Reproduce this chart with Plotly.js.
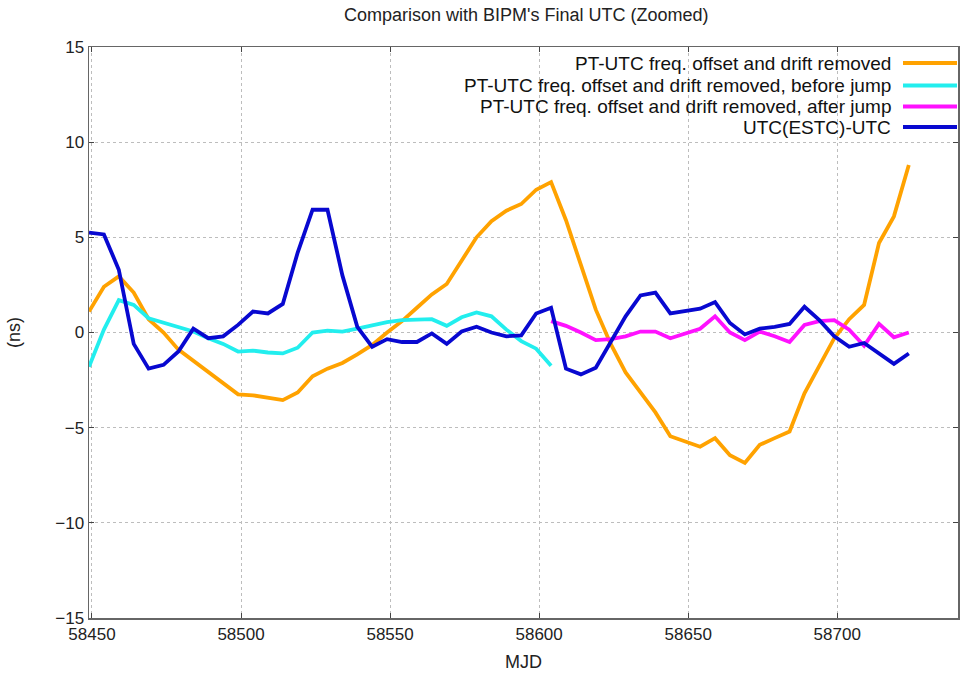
<!DOCTYPE html>
<html>
<head>
<meta charset="utf-8">
<script src="https://cdn.plot.ly/plotly-3.0.1.min.js"></script>
<style>html,body{margin:0;padding:0;background:#fff;}#chart{width:969px;height:681px;}</style>
</head>
<body>
<div id="chart"></div>
<script>
// MJD sample points (every 5 days)
const mjd = [58449,58454,58459,58464,58469,58474,58479,58484,58489,58494,
  58499,58504,58509,58514,58519,58524,58529,58534,58539,58544,
  58549,58554,58559,58564,58569,58574,58579,58584,58589,58594,
  58599,58604,58609,58614,58619,58624,58629,58634,58639,58644,
  58649,58654,58659,58664,58669,58674,58679,58684,58689,58694,
  58699,58704,58709,58714,58719,58724];

const ptUtc = [1.1,2.4,2.95,2.1,0.7,0.0,-0.9,-1.5,-2.1,-2.65,
  -3.25,-3.3,-3.45,-3.55,-3.15,-2.3,-1.9,-1.6,-1.15,-0.65,
  0.0,0.6,1.3,2.0,2.55,3.75,5.0,5.85,6.4,6.75,
  7.5,7.9,5.9,3.55,1.2,-0.6,-2.1,-3.15,-4.2,-5.45,
  -5.75,-6.0,-5.55,-6.45,-6.85,-5.9,-5.55,-5.2,-3.2,-1.8,
  -0.3,0.7,1.45,4.7,6.1,8.8];

const mjdBefore = mjd.slice(0, 32);
const ptBefore = [-1.8,0.15,1.7,1.45,0.75,0.5,0.3,0.05,-0.3,-0.6,
  -1.0,-0.95,-1.05,-1.1,-0.8,0.0,0.1,0.05,0.2,0.4,
  0.55,0.65,0.7,0.7,0.35,0.8,1.05,0.85,0.15,-0.45,
  -0.85,-1.75];

const mjdAfter = mjd.slice(31);
const ptAfter = [0.6,0.35,0.0,-0.4,-0.35,-0.2,0.05,0.05,-0.3,-0.05,
  0.2,0.85,0.0,-0.4,0.05,-0.2,-0.5,0.4,0.6,0.65,
  0.15,-0.7,0.45,-0.25,0.0];

const estc = [5.25,5.15,3.3,-0.6,-1.9,-1.7,-1.0,0.2,-0.3,-0.2,
  0.4,1.1,1.0,1.5,4.2,6.45,6.45,3.0,0.3,-0.75,
  -0.35,-0.5,-0.5,-0.05,-0.6,0.05,0.3,0.0,-0.2,-0.15,
  1.0,1.3,-1.9,-2.2,-1.85,-0.5,0.85,1.95,2.1,1.0,
  1.1,1.25,1.6,0.5,-0.1,0.2,0.3,0.45,1.35,0.65,
  -0.2,-0.75,-0.55,-1.1,-1.65,-1.1];

const names = ["PT-UTC freq. offset and drift removed",
  "PT-UTC freq. offset and drift removed, before jump",
  "PT-UTC freq. offset and drift removed, after jump",
  "UTC(ESTC)-UTC"];
const colors = ["#ffa200", "#22eeee", "#ff11ff", "#0808d0"];

const traces = [
  {x: mjd, y: ptUtc, name: names[0]},
  {x: mjdBefore, y: ptBefore, name: names[1]},
  {x: mjdAfter, y: ptAfter, name: names[2]},
  {x: mjd, y: estc, name: names[3]}
].map((t, i) => Object.assign(t, {type: 'scatter', mode: 'lines', line: {color: colors[i], width: 3.8}, showlegend: false}));

// legend drawn top-right, text right-aligned with line sample on the right
const annotations = [];
const shapes = [];
const legY = [63, 85.5, 106.5, 127];
names.forEach((n, i) => {
  const yp = 1 - (legY[i] - 47) / 571;
  annotations.push({xref: 'paper', yref: 'paper', x: (893 - 89) / 869, y: yp, xanchor: 'right', yanchor: 'middle',
    text: n, showarrow: false, font: {family: 'Liberation Sans, Arial, sans-serif', size: 19, color: '#111'}});
  shapes.push({type: 'line', xref: 'paper', yref: 'paper', x0: (903 - 89) / 869, x1: (957 - 89) / 869, y0: yp, y1: yp,
    line: {color: colors[i], width: 4}});
});

const axisCommon = {
  showline: true, mirror: 'ticks', linecolor: '#666', linewidth: 1.5,
  ticks: 'inside', ticklen: 5, tickcolor: '#444',
  showgrid: true, gridcolor: '#bdbdbd', griddash: 'dot', gridwidth: 1,
  zeroline: false, tickformat: 'd',
  tickfont: {family: 'Liberation Sans, Arial, sans-serif', size: 17, color: '#222'}
};

const layout = {
  width: 969, height: 681,
  margin: {l: 89, r: 11, t: 47, b: 63},
  paper_bgcolor: '#fff', plot_bgcolor: '#fff',
  title: {text: "Comparison with BIPM's Final UTC (Zoomed)", x: 0.543, xanchor: 'center', y: 0.978, yanchor: 'middle',
    font: {family: 'Liberation Sans, Arial, sans-serif', size: 18, color: '#222'}},
  xaxis: Object.assign({}, axisCommon, {range: [58449, 58740.5], tick0: 58450, dtick: 50,
    title: {text: 'MJD', standoff: 12, font: {family: 'Liberation Sans, Arial, sans-serif', size: 18, color: '#222'}}}),
  yaxis: Object.assign({}, axisCommon, {range: [-15, 15], tick0: -15, dtick: 5,
    title: {text: '(ns)', standoff: 30, font: {family: 'Liberation Sans, Arial, sans-serif', size: 18, color: '#222'}}}),
  annotations: annotations,
  shapes: shapes,
  showlegend: false
};

Plotly.newPlot('chart', traces, layout, {displayModeBar: false, staticPlot: true});
</script>
</body>
</html>
